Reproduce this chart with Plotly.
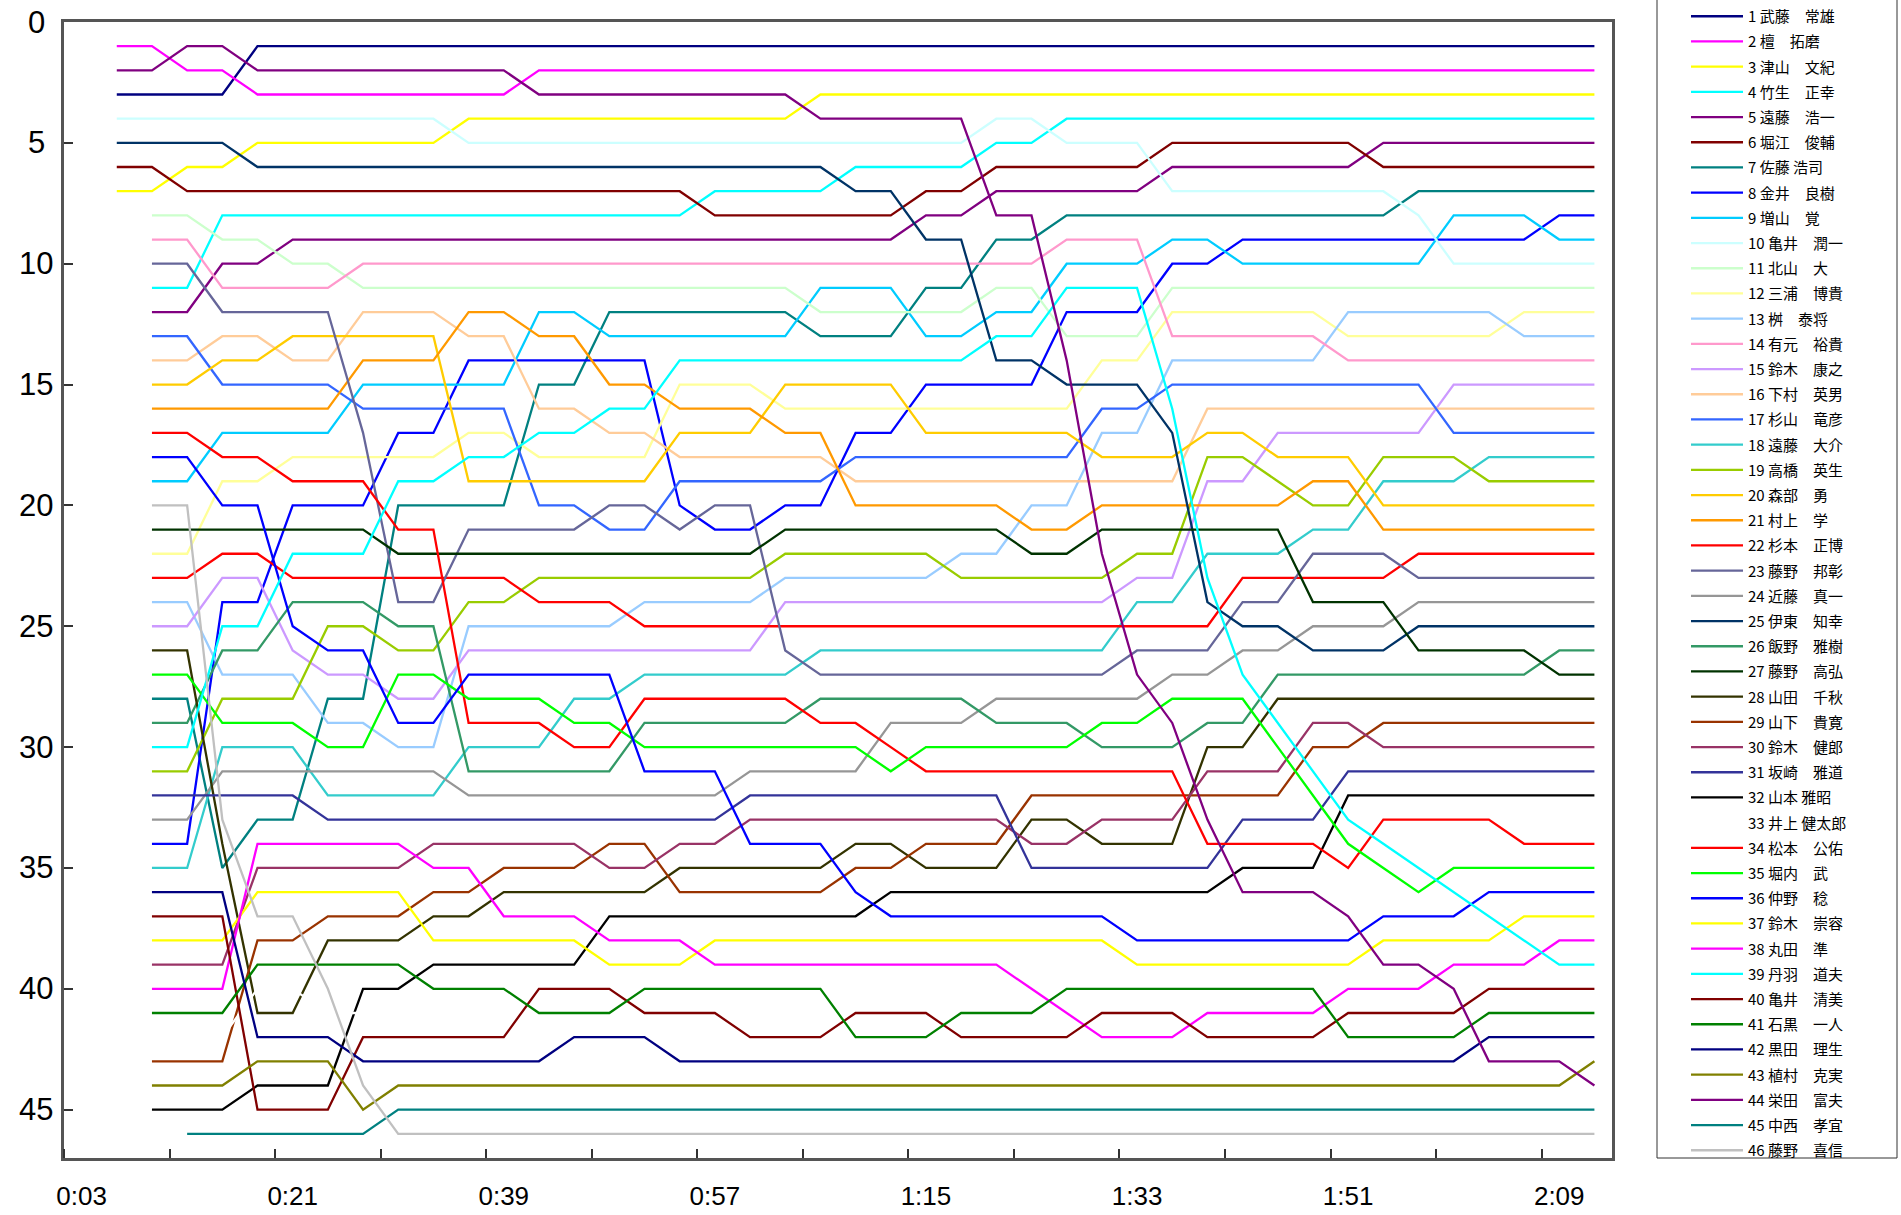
import plotly.graph_objects as go

N = None

# category labels (3-minute checkpoints)
times = ["0:03", "0:06", "0:09", "0:12", "0:15", "0:18", "0:21", "0:24", "0:27", "0:30",
         "0:33", "0:36", "0:39", "0:42", "0:45", "0:48", "0:51", "0:54", "0:57", "1:00",
         "1:03", "1:06", "1:09", "1:12", "1:15", "1:18", "1:21", "1:24", "1:27", "1:30",
         "1:33", "1:36", "1:39", "1:42", "1:45", "1:48", "1:51", "1:54", "1:57", "2:00",
         "2:03", "2:06", "2:09", "2:12"]
tick_labels = ["0:03", "0:21", "0:39", "0:57", "1:15", "1:33", "1:51", "2:09"]
y_ticks = [0, 5, 10, 15, 20, 25, 30, 35, 40, 45]

names = ["1 武藤　常雄", "2 檀　拓磨", "3 津山　文紀", "4 竹生　正幸", "5 遠藤　浩一",
         "6 堀江　俊輔", "7 佐藤 浩司", "8 金井　良樹", "9 増山　覚", "10 亀井　潤一",
         "11 北山　大", "12 三浦　博貴", "13 桝　泰将", "14 有元　裕貴", "15 鈴木　康之",
         "16 下村　英男", "17 杉山　竜彦", "18 遠藤　大介", "19 高橋　英生", "20 森部　勇",
         "21 村上　学", "22 杉本　正博", "23 藤野　邦彰", "24 近藤　真一", "25 伊東　知幸",
         "26 飯野　雅樹", "27 藤野　高弘", "28 山田　千秋", "29 山下　貴寛", "30 鈴木　健郎",
         "31 坂崎　雅道", "32 山本 雅昭", "33 井上 健太郎", "34 松本　公佑", "35 堀内　武",
         "36 仲野　稔", "37 鈴木　崇容", "38 丸田　準", "39 丹羽　道夫", "40 亀井　清美",
         "41 石黒　一人", "42 黒田　理生", "43 植村　克実", "44 栄田　富夫", "45 中西　孝宜",
         "46 藤野　喜信"]

colors = ["#000080", "#FF00FF", "#FFFF00", "#00FFFF", "#800080", "#800000", "#008080", "#0000FF",
          "#00CCFF", "#CCFFFF", "#CCFFCC", "#FFFF99", "#99CCFF", "#FF99CC", "#CC99FF", "#FFCC99",
          "#3366FF", "#33CCCC", "#99CC00", "#FFCC00", "#FF9900", "#FF0000", "#666699", "#969696",
          "#003366", "#339966", "#003300", "#333300", "#993300", "#993366", "#333399", "#000000",
          "#FFFFFF", "#FF0000", "#00FF00", "#0000FF", "#FFFF00", "#FF00FF", "#00FFFF", "#800000",
          "#008000", "#000080", "#808000", "#800080", "#008080", "#C0C0C0"]

s01 = [N, 3,3,3,3,1,1,1,1,1,1, 1,1,1,1,1,1,1,1,1,1, 1,1,1,1,1,1,1,1,1,1, 1,1,1,1,1,1,1,1,1,1, 1,1,1]
s02 = [N, 1,1,2,2,3,3,3,3,3,3, 3,3,2,2,2,2,2,2,2,2, 2,2,2,2,2,2,2,2,2,2, 2,2,2,2,2,2,2,2,2,2, 2,2,2]
s03 = [N, 7,7,6,6,5,5,5,5,5,5, 4,4,4,4,4,4,4,4,4,4, 3,3,3,3,3,3,3,3,3,3, 3,3,3,3,3,3,3,3,3,3, 3,3,3]
s04 = [N, N,11,11,8,8,8,8,8,8,8, 8,8,8,8,8,8,8,7,7,7, 7,6,6,6,6,5,5,4,4,4, 4,4,4,4,4,4,4,4,4,4, 4,4,4]
s05 = [N, N,12,12,10,10,9,9,9,9,9, 9,9,9,9,9,9,9,9,9,9, 9,9,9,8,8,7,7,7,7,7, 6,6,6,6,6,6,5,5,5,5, 5,5,5]
s06 = [N, 6,6,7,7,7,7,7,7,7,7, 7,7,7,7,7,7,7,8,8,8, 8,8,8,7,7,6,6,6,6,6, 5,5,5,5,5,5,6,6,6,6, 6,6,6]
s07 = [N, N,28,28,35,33,33,28,28,20,20, 20,20,15,15,12,12,12,12,12,12, 13,13,13,11,11,9,9,8,8,8, 8,8,8,8,8,8,8,7,7,7, 7,7,7]
s08 = [N, N,34,34,24,24,20,20,20,17,17, 14,14,14,14,14,14,20,21,21,20, 20,17,17,15,15,15,15,12,12,12, 10,10,9,9,9,9,9,9,9,9, 9,8,8]
s09 = [N, N,19,19,17,17,17,17,15,15,15, 15,15,12,12,13,13,13,13,13,13, 11,11,11,13,13,12,12,10,10,10, 9,9,10,10,10,10,10,10,8,8, 8,9,9]
s10 = [N, 4,4,4,4,4,4,4,4,4,4, 5,5,5,5,5,5,5,5,5,5, 5,5,5,5,5,4,4,5,5,5, 7,7,7,7,7,7,7,8,10,10, 10,10,10]
s11 = [N, N,8,8,9,9,10,10,11,11,11, 11,11,11,11,11,11,11,11,11,11, 12,12,12,12,12,11,11,13,13,13, 11,11,11,11,11,11,11,11,11,11, 11,11,11]
s12 = [N, N,22,22,19,19,18,18,18,18,18, 17,17,18,18,18,18,15,15,15,16, 16,16,16,16,16,16,16,16,14,14, 12,12,12,12,12,13,13,13,13,13, 12,12,12]
s13 = [N, N,24,24,27,27,27,29,29,30,30, 25,25,25,25,25,24,24,24,24,23, 23,23,23,23,22,22,20,20,17,17, 14,14,14,14,14,12,12,12,12,12, 13,13,13]
s14 = [N, N,9,9,11,11,11,11,10,10,10, 10,10,10,10,10,10,10,10,10,10, 10,10,10,10,10,10,10,9,9,9, 13,13,13,13,13,14,14,14,14,14, 14,14,14]
s15 = [N, N,25,25,23,23,26,27,27,28,28, 26,26,26,26,26,26,26,26,26,24, 24,24,24,24,24,24,24,24,24,23, 23,19,19,17,17,17,17,17,15,15, 15,15,15]
s16 = [N, N,14,14,13,13,14,14,12,12,12, 13,13,16,16,17,17,18,18,18,18, 18,19,19,19,19,19,19,19,19,19, 19,16,16,16,16,16,16,16,16,16, 16,16,16]
s17 = [N, N,13,13,15,15,15,15,16,16,16, 16,16,20,20,21,21,19,19,19,19, 19,18,18,18,18,18,18,18,16,16, 15,15,15,15,15,15,15,15,17,17, 17,17,17]
s18 = [N, N,35,35,30,30,30,32,32,32,32, 30,30,30,28,28,27,27,27,27,27, 26,26,26,26,26,26,26,26,26,24, 24,22,22,22,21,21,19,19,19,18, 18,18,18]
s19 = [N, N,31,31,28,28,28,25,25,26,26, 24,24,23,23,23,23,23,23,23,22, 22,22,22,22,23,23,23,23,23,22, 22,18,18,19,20,20,18,18,18,19, 19,19,19]
s20 = [N, N,15,15,14,14,13,13,13,13,13, 19,19,19,19,19,19,17,17,17,15, 15,15,15,17,17,17,17,17,18,18, 18,17,17,18,18,18,20,20,20,20, 20,20,20]
s21 = [N, N,16,16,16,16,16,16,14,14,14, 12,12,13,13,15,15,16,16,16,17, 17,20,20,20,20,20,21,21,20,20, 20,20,20,20,19,19,21,21,21,21, 21,21,21]
s22 = [N, N,23,23,22,22,23,23,23,23,23, 23,23,24,24,24,25,25,25,25,25, 25,25,25,25,25,25,25,25,25,25, 25,25,23,23,23,23,23,22,22,22, 22,22,22]
s23 = [N, N,10,10,12,12,12,12,17,24,24, 21,21,21,21,20,20,21,20,20,26, 27,27,27,27,27,27,27,27,27,26, 26,26,24,24,22,22,22,23,23,23, 23,23,23]
s24 = [N, N,33,33,31,31,31,31,31,31,31, 32,32,32,32,32,32,32,32,31,31, 31,31,29,29,29,28,28,28,28,28, 27,27,26,26,25,25,25,24,24,24, 24,24,24]
s25 = [N, 5,5,5,5,6,6,6,6,6,6, 6,6,6,6,6,6,6,6,6,6, 6,7,7,9,9,14,14,15,15,15, 17,24,25,25,26,26,26,25,25,25, 25,25,25]
s26 = [N, N,29,29,26,26,24,24,24,25,25, 31,31,31,31,31,29,29,29,29,29, 28,28,28,28,28,29,29,29,30,30, 30,29,29,27,27,27,27,27,27,27, 27,26,26]
s27 = [N, N,21,21,21,21,21,21,21,22,22, 22,22,22,22,22,22,22,22,22,21, 21,21,21,21,21,21,22,22,21,21, 21,21,21,21,24,24,24,26,26,26, 26,27,27]
s28 = [N, N,26,26,34,41,41,38,38,38,37, 37,36,36,36,36,36,35,35,35,35, 35,34,34,35,35,35,33,33,34,34, 34,30,30,28,28,28,28,28,28,28, 28,28,28]
s29 = [N, N,43,43,43,38,38,37,37,37,36, 36,35,35,35,34,34,36,36,36,36, 36,35,35,34,34,34,32,32,32,32, 32,32,32,32,30,30,29,29,29,29, 29,29,29]
s30 = [N, N,39,39,39,35,35,35,35,35,34, 34,34,34,34,35,35,34,34,33,33, 33,33,33,33,33,33,34,34,33,33, 33,31,31,31,29,29,30,30,30,30, 30,30,30]
s31 = [N, N,32,32,32,32,32,33,33,33,33, 33,33,33,33,33,33,33,33,32,32, 32,32,32,32,32,32,35,35,35,35, 35,35,33,33,33,31,31,31,31,31, 31,31,31]
s32 = [N, N,45,45,45,44,44,44,40,40,39, 39,39,39,39,37,37,37,37,37,37, 37,37,36,36,36,36,36,36,36,36, 36,36,35,35,35,32,32,32,32,32, 32,32,32]
s33 = [N, N,42,42,42,40,40,41,41,41,41, 41,41,42,43,43,43,42,42,41,41, 41,40,40,40,40,40,39,39,39,37, 37,37,37,37,37,36,36,34,34,34, 33,33,33]
s34 = [N, N,17,17,18,18,19,19,19,21,21, 29,29,29,30,30,28,28,28,28,28, 29,29,30,31,31,31,31,31,31,31, 31,34,34,34,34,35,33,33,33,33, 34,34,34]
s35 = [N, N,27,27,29,29,29,30,30,27,27, 28,28,28,29,29,30,30,30,30,30, 30,30,31,30,30,30,30,30,29,29, 28,28,28,30,32,34,35,36,35,35, 35,35,35]
s36 = [N, N,18,18,20,20,25,26,26,29,29, 27,27,27,27,27,31,31,31,34,34, 34,36,37,37,37,37,37,37,37,38, 38,38,38,38,38,38,37,37,37,36, 36,36,36]
s37 = [N, N,38,38,38,36,36,36,36,36,38, 38,38,38,38,39,39,39,38,38,38, 38,38,38,38,38,38,38,38,38,39, 39,39,39,39,39,39,38,38,38,38, 37,37,37]
s38 = [N, N,40,40,40,34,34,34,34,34,35, 35,37,37,37,38,38,38,39,39,39, 39,39,39,39,39,39,40,41,42,42, 42,41,41,41,41,40,40,40,39,39, 39,38,38]
s39 = [N, N,30,30,25,25,22,22,22,19,19, 18,18,17,17,16,16,14,14,14,14, 14,14,14,14,14,13,13,11,11,11, 16,23,27,29,31,33,34,35,36,37, 38,39,39]
s40 = [N, N,37,37,37,45,45,45,42,42,42, 42,42,40,40,40,41,41,41,42,42, 42,41,41,41,42,42,42,42,41,41, 41,42,42,42,42,41,41,41,41,40, 40,40,40]
s41 = [N, N,41,41,41,39,39,39,39,39,40, 40,40,41,41,41,40,40,40,40,40, 40,42,42,42,41,41,41,40,40,40, 40,40,40,40,40,42,42,42,42,41, 41,41,41]
s42 = [N, N,36,36,36,42,42,42,43,43,43, 43,43,43,42,42,42,43,43,43,43, 43,43,43,43,43,43,43,43,43,43, 43,43,43,43,43,43,43,43,43,42, 42,42,42]
s43 = [N, N,44,44,44,43,43,43,45,44,44, 44,44,44,44,44,44,44,44,44,44, 44,44,44,44,44,44,44,44,44,44, 44,44,44,44,44,44,44,44,44,44, 44,44,43]
s44 = [N, 2,2,1,1,2,2,2,2,2,2, 2,2,3,3,3,3,3,3,3,3, 4,4,4,4,4,8,8,14,22,27, 29,33,36,36,36,37,39,39,40,43, 43,43,44]
s45 = [N, N,N,46,46,46,46,46,46,45,45, 45,45,45,45,45,45,45,45,45,45, 45,45,45,45,45,45,45,45,45,45, 45,45,45,45,45,45,45,45,45,45, 45,45,45]
s46 = [N, N,20,20,33,37,37,40,44,46,46, 46,46,46,46,46,46,46,46,46,46, 46,46,46,46,46,46,46,46,46,46, 46,46,46,46,46,46,46,46,46,46, 46,46,46]

series = [s01, s02, s03, s04, s05, s06, s07, s08, s09, s10, s11, s12, s13, s14, s15, s16,
          s17, s18, s19, s20, s21, s22, s23, s24, s25, s26, s27, s28, s29, s30, s31, s32,
          s33, s34, s35, s36, s37, s38, s39, s40, s41, s42, s43, s44, s45, s46]


def to_min(s):
    h, m = s.split(":")
    return int(h) * 60 + int(m)


xs = [to_min(t) for t in times]

fig = go.Figure()
for name, color, ys in zip(names, colors, series):
    fig.add_trace(go.Scatter(
        x=xs, y=ys, mode="lines", name=name, legendgroup=name,
        line=dict(color=color, width=2.3), hoverinfo="skip",
    ))

W, H = 1901, 1215
ML, MR, MT, MB = 64, 289, 22, 57
PW = W - ML - MR

# legend frame (drawn as a shape so its size matches the original box)
fig.add_shape(type="rect", xref="paper", yref="paper",
              x0=(1657 - ML) / PW, x1=(1897 - ML) / PW,
              y0=0, y1=1.03,
              line=dict(color="#333333", width=1), fillcolor="white", layer="below")

# y tick labels, centred under each other as in the original
for v in y_ticks:
    fig.add_annotation(text=str(v), x=(36 - ML) / PW, xref="paper", y=v, yref="y",
                       xanchor="center", yanchor="middle", showarrow=False,
                       font=dict(size=31, family="Liberation Sans, Arial", color="black"))

fig.update_layout(
    width=W, height=H,
    margin=dict(l=ML, r=MR, t=MT, b=MB, autoexpand=False),
    paper_bgcolor="white", plot_bgcolor="white",
    showlegend=True,
    legend=dict(
        xref="container", yref="container",
        x=1686 / W, xanchor="left",
        y=1.0135, yanchor="top",
        maxheight=1300,
        borderwidth=0, bgcolor="rgba(0,0,0,0)",
        font=dict(family="Noto Sans CJK JP, Liberation Sans", size=15, color="black"),
        traceorder="grouped", tracegroupgap=2.7, itemwidth=52,
    ),
    font=dict(family="Liberation Sans, Arial", color="black"),
)
fig.update_xaxes(
    range=[xs[0] - 1.5, xs[-1] + 1.5], automargin=False,
    tickmode="array", tickvals=[to_min(t) for t in tick_labels], ticktext=tick_labels,
    ticks="", tickfont=dict(size=26, family="Liberation Sans, Arial", color="black"),
    ticklabelstandoff=13,
    showgrid=False, zeroline=False,
    showline=True, linecolor="#555555", linewidth=2.5, mirror=True,
    minor=dict(tickmode="linear", tick0=xs[0] - 1.5, dtick=9, ticks="inside",
               ticklen=9, tickwidth=1.5, tickcolor="#333333", showgrid=False),
)
fig.update_yaxes(
    range=[47, 0], automargin=False,
    tickmode="array", tickvals=y_ticks, showticklabels=False,
    ticks="inside", ticklen=9, tickwidth=1.5, tickcolor="#333333",
    showgrid=False, zeroline=False,
    showline=True, linecolor="#555555", linewidth=2.5, mirror=True,
)

fig.write_html("out.html", config={"displayModeBar": False},
               post_script="document.body.style.margin='0';")
